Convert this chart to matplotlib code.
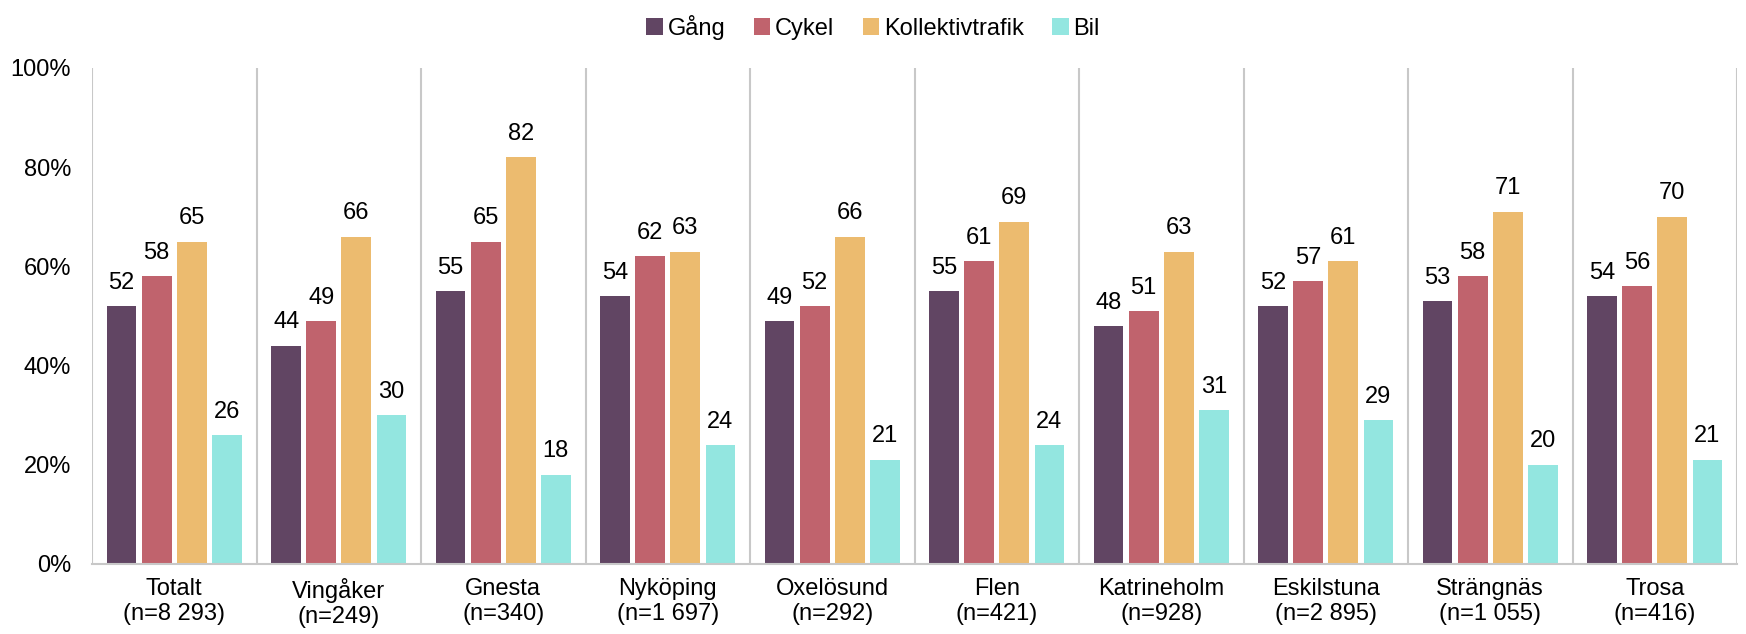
import numpy as np
import matplotlib
matplotlib.use('Agg')
import matplotlib.pyplot as plt

plt.rcParams['font.family'] = ['Liberation Sans', 'DejaVu Sans']

kategorier = ['Totalt\n(n=8 293)', 'Vingåker\n(n=249)', 'Gnesta\n(n=340)',
              'Nyköping\n(n=1 697)', 'Oxelösund\n(n=292)', 'Flen\n(n=421)',
              'Katrineholm\n(n=928)', 'Eskilstuna\n(n=2 895)',
              'Strängnäs\n(n=1 055)', 'Trosa\n(n=416)']
serier = ['Gång', 'Cykel', 'Kollektivtrafik', 'Bil']
gang = [52, 44, 55, 54, 49, 55, 48, 52, 53, 54]
cykel = [58, 49, 65, 62, 52, 61, 51, 57, 58, 56]
kollektiv = [65, 66, 82, 63, 66, 69, 63, 61, 71, 70]
bil = [26, 30, 18, 24, 21, 24, 31, 29, 20, 21]
farger = ['#614563', '#c0636d', '#ecbb6f', '#93e6e0']

fig = plt.figure(figsize=(17.46, 6.34), dpi=100)
ax = fig.add_axes([92/1746, 1-564/634, (1737-92)/1746, (564-68)/634])

x = np.arange(len(kategorier))
w = 0.18
step = 0.213
for i, (namn, vals) in enumerate(zip(serier, [gang, cykel, kollektiv, bil])):
    pos = x + (i - 1.5)*step
    ax.bar(pos, vals, w, color=farger[i], label=namn)
    for p, v in zip(pos, vals):
        ax.text(p, v + 2.5, str(v), ha='center', va='bottom', fontsize=17)

ax.set_xlim(-0.5, len(kategorier) - 0.5)
ax.set_ylim(0, 100)
ax.set_yticks(np.arange(0, 101, 20))
ax.set_yticklabels([f'{t}%' for t in range(0, 101, 20)], fontsize=17)
ax.set_xticks(x)
ax.set_xticklabels(kategorier, fontsize=17)
ax.tick_params(length=0, pad=10)
ax.tick_params(axis='y', pad=15)

for b in np.arange(-0.5, len(kategorier), 1):
    ax.axvline(b, color='#c8c8c8', lw=1.5, zorder=0)
for s in ['top', 'right', 'left']:
    ax.spines[s].set_visible(False)
ax.spines['bottom'].set_color('#c8c8c8')
ax.spines['bottom'].set_linewidth(1.5)

fig.legend(loc='upper center', bbox_to_anchor=(0.5, 1.01), ncol=4, frameon=False,
           fontsize=17, handlelength=0.7, handleheight=0.7, handletextpad=0.2,
           columnspacing=1.2)

fig.savefig('out.png', dpi=100)
